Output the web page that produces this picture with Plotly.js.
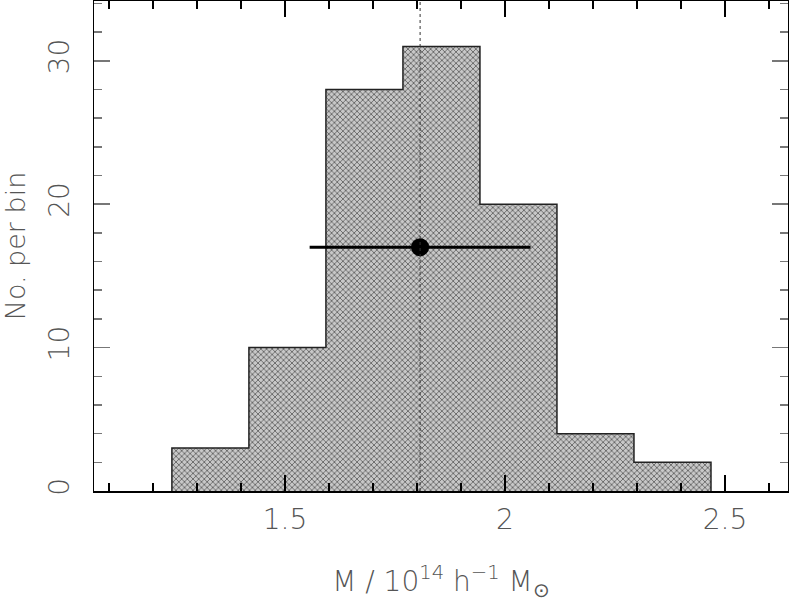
<!DOCTYPE html>
<html>
<head>
<meta charset="utf-8">
<script src="https://cdn.plot.ly/plotly-3.0.1.min.js"></script>
<style>
  html, body { margin: 0; padding: 0; background: #fff; }
  #hist-plot { width: 789px; height: 609px; }
</style>
</head>
<body>
<div id="hist-plot"></div>
<script>
// bin edges (10^14 h^-1 Msun) and counts per bin
const binEdges = [1.243, 1.418, 1.593, 1.768, 1.943, 2.118, 2.293, 2.468];
const binCounts = [3, 10, 28, 31, 20, 4, 2];

// mean mass with its error, and the height it is drawn at
const meanMass = 1.807;
const meanErr = 0.251;
const meanY = 17;

function drawHist() {
    const centers = binCounts.map((_, i) => (binEdges[i] + binEdges[i + 1]) / 2);
    const widths = binCounts.map((_, i) => binEdges[i + 1] - binEdges[i]);

    // step outline round the histogram
    const stepX = [binEdges[0]];
    const stepY = [0];
    for (let i = 0; i < binCounts.length; i++) {
        stepX.push(binEdges[i]);
        stepY.push(binCounts[i]);
    }
    stepX.push(binEdges[binEdges.length - 1], binEdges[binEdges.length - 1]);
    stepY.push(binCounts[binCounts.length - 1], 0);

    const traces = [
        {
            type: "bar",
            x: centers,
            y: binCounts,
            width: widths,
            marker: {
                color: "#bcbcbc",
                line: { width: 0 },
                pattern: { shape: "x", size: 4, solidity: 0.35, fgcolor: "#555", bgcolor: "#c8c8c8" }
            },
            hoverinfo: "skip"
        },
        {
            type: "scatter",
            mode: "lines",
            x: stepX,
            y: stepY,
            line: { color: "#222", width: 1.5, shape: "hv" },
            hoverinfo: "skip"
        },
        {
            type: "scatter",
            mode: "markers",
            x: [meanMass],
            y: [meanY],
            marker: { color: "#000", size: 18 },
            error_x: { type: "data", array: [meanErr], color: "#000", thickness: 3, width: 0 }
        }
    ];

    const thinFont = { family: "DejaVu Sans, sans-serif", size: 28, color: "#555", weight: 200 };

    const layout = {
        width: 789,
        height: 609,
        margin: { l: 94, r: 1, t: 1, b: 118 },
        paper_bgcolor: "#fff",
        plot_bgcolor: "#fff",
        showlegend: false,
        bargap: 0,
        xaxis: {
            range: [1.066, 2.643],
            tickvals: [1.5, 2, 2.5],
            ticktext: ["1.5", "2", "2.5"],
            ticks: "inside",
            ticklen: 16,
            tickwidth: 1.5,
            tickcolor: "#000",
            ticklabelstandoff: 3,
            minor: { dtick: 0.1, tick0: 1, ticks: "inside", ticklen: 8, tickwidth: 1.5, tickcolor: "#000", showgrid: false },
            showline: true,
            mirror: "ticks",
            linecolor: "#000",
            linewidth: 1.5,
            showgrid: false,
            zeroline: false,
            tickfont: thinFont,
            title: {
                text: "M / 10<sup>14</sup> h<sup>\u22121</sup> M<sub>\u2299</sub>",
                font: { family: "DejaVu Sans, sans-serif", size: 28, color: "#555", weight: 200 },
                standoff: 36
            }
        },
        yaxis: {
            range: [0, 34.17],
            dtick: 10,
            tick0: 0,
            ticks: "inside",
            ticklen: 16,
            tickwidth: 1.5,
            tickcolor: "#777",
            tickangle: -90,
            ticklabelstandoff: 12,
            minor: { dtick: 2, ticks: "inside", ticklen: 8, tickwidth: 1.5, tickcolor: "#777", showgrid: false },
            showline: true,
            mirror: "ticks",
            linecolor: "#000",
            linewidth: 1.5,
            showgrid: false,
            zeroline: false,
            tickfont: thinFont,
            title: {
                text: "No. per bin",
                font: { family: "DejaVu Sans, sans-serif", size: 27, color: "#555", weight: 200 },
                standoff: 14
            }
        },
        shapes: [
            {
                type: "line",
                xref: "x",
                yref: "paper",
                x0: meanMass,
                x1: meanMass,
                y0: 0,
                y1: 1,
                line: { color: "#333", width: 1, dash: "dot" }
            }
        ]
    };

    Plotly.newPlot("hist-plot", traces, layout, { displayModeBar: false, staticPlot: true });
}

document.addEventListener("DOMContentLoaded", drawHist);
</script>
</body>
</html>
